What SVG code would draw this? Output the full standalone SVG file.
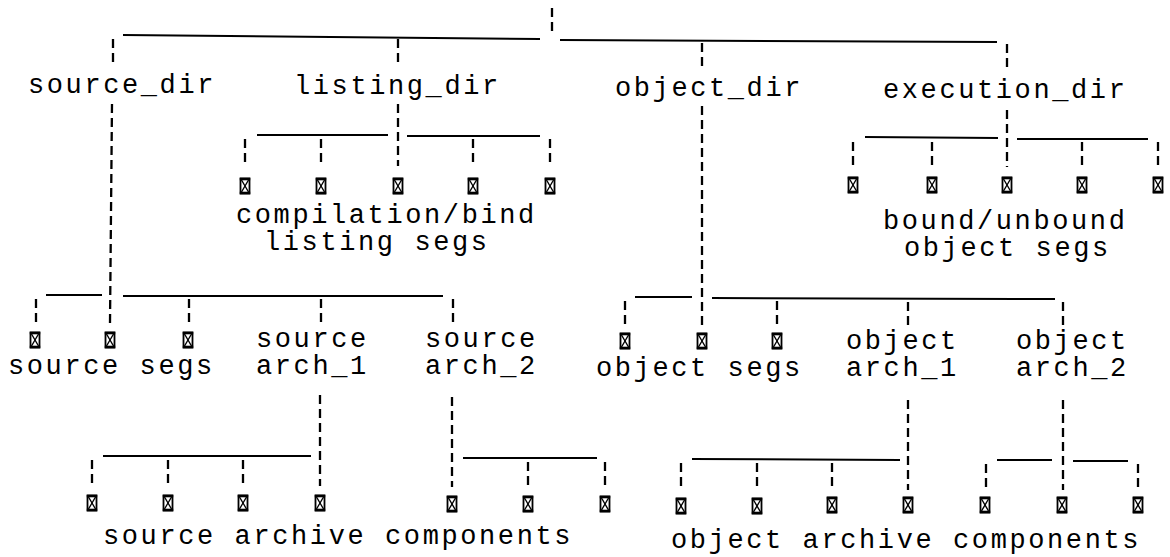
<svg xmlns="http://www.w3.org/2000/svg" width="1170" height="557" viewBox="0 0 1170 557">
<style>
text{font-family:"Liberation Mono","DejaVu Sans Mono",monospace;font-size:27px;letter-spacing:2.6px;fill:#000}
.h{stroke:#000;stroke-width:2;fill:none}
.d{stroke:#000;stroke-width:2.3;stroke-dasharray:9 5;fill:none}
</style>
<defs>
<g id="seg">
<rect x="-4.5" y="-7.5" width="9" height="15" fill="#fff" stroke="#000" stroke-width="1.8"/>
<line x1="-5.2" y1="-7" x2="5.2" y2="-7" stroke="#000" stroke-width="2.6"/>
<line x1="-5.2" y1="7" x2="5.2" y2="7" stroke="#000" stroke-width="2.6"/>
<line x1="-3.5" y1="-6" x2="3.5" y2="6" stroke="#000" stroke-width="1.4"/>
<line x1="3.5" y1="-6" x2="-3.5" y2="6" stroke="#000" stroke-width="1.4"/>
</g>
</defs>
<rect width="1170" height="557" fill="#fff"/>
<g id="connectors">
<line class="d" x1="552" y1="8" x2="552" y2="33"/>
<line class="h" x1="123" y1="35" x2="540" y2="39"/>
<line class="h" x1="560" y1="40" x2="997" y2="42"/>
<line class="d" x1="113" y1="39" x2="113" y2="65"/>
<line class="d" x1="398" y1="39" x2="398" y2="66"/>
<line class="d" x1="702" y1="43" x2="702" y2="68"/>
<line class="d" x1="1007" y1="44" x2="1007" y2="70"/>
<line class="d" x1="112" y1="104" x2="110" y2="323"/>
<line class="d" x1="398" y1="104" x2="398" y2="166"/>
<line class="d" x1="702" y1="106" x2="702" y2="326"/>
<line class="d" x1="1007" y1="110" x2="1007" y2="167"/>
<line class="h" x1="257" y1="135" x2="388" y2="135"/>
<line class="h" x1="407" y1="136" x2="540" y2="136"/>
<line class="d" x1="245" y1="139" x2="245" y2="165"/>
<line class="d" x1="321" y1="139" x2="321" y2="165"/>
<line class="d" x1="473" y1="139" x2="473" y2="165"/>
<line class="d" x1="550" y1="139" x2="550" y2="165"/>
<line class="h" x1="865" y1="137" x2="998" y2="138"/>
<line class="h" x1="1017" y1="139" x2="1148" y2="139"/>
<line class="d" x1="853" y1="142" x2="853" y2="167"/>
<line class="d" x1="932" y1="142" x2="932" y2="167"/>
<line class="d" x1="1082" y1="142" x2="1082" y2="167"/>
<line class="d" x1="1158" y1="142" x2="1158" y2="167"/>
<line class="h" x1="46" y1="295" x2="102" y2="295"/>
<line class="h" x1="123" y1="296" x2="443" y2="296"/>
<line class="d" x1="36" y1="299" x2="36" y2="324"/>
<line class="d" x1="189" y1="299" x2="189" y2="324"/>
<line class="d" x1="321" y1="299" x2="321" y2="324"/>
<line class="d" x1="453" y1="299" x2="453" y2="324"/>
<line class="h" x1="635" y1="297" x2="692" y2="297"/>
<line class="h" x1="712" y1="298" x2="1055" y2="299"/>
<line class="d" x1="625" y1="301" x2="625" y2="326"/>
<line class="d" x1="777" y1="301" x2="777" y2="326"/>
<line class="d" x1="908" y1="302" x2="908" y2="327"/>
<line class="d" x1="1063" y1="302" x2="1063" y2="327"/>
<line class="d" x1="320" y1="395" x2="320" y2="486"/>
<line class="h" x1="103" y1="456" x2="311" y2="456"/>
<line class="d" x1="92" y1="460" x2="92" y2="486"/>
<line class="d" x1="168" y1="460" x2="168" y2="486"/>
<line class="d" x1="243" y1="460" x2="243" y2="486"/>
<line class="d" x1="452" y1="397" x2="452" y2="487"/>
<line class="h" x1="463" y1="458" x2="597" y2="458"/>
<line class="d" x1="528" y1="462" x2="528" y2="487"/>
<line class="d" x1="605" y1="462" x2="605" y2="487"/>
<line class="d" x1="908" y1="400" x2="908" y2="490"/>
<line class="h" x1="692" y1="459" x2="900" y2="460"/>
<line class="d" x1="681" y1="463" x2="681" y2="490"/>
<line class="d" x1="757" y1="463" x2="757" y2="490"/>
<line class="d" x1="832" y1="463" x2="832" y2="490"/>
<line class="d" x1="1063" y1="400" x2="1063" y2="490"/>
<line class="h" x1="997" y1="460" x2="1052" y2="460"/>
<line class="h" x1="1073" y1="461" x2="1128" y2="461"/>
<line class="d" x1="986" y1="464" x2="986" y2="490"/>
<line class="d" x1="1138" y1="464" x2="1138" y2="490"/>
</g>
<g id="source_dir"><text x="28" y="93">source_dir</text></g>
<g id="listing_dir"><text x="294" y="94">listing_dir</text></g>
<g id="object_dir"><text x="615" y="96">object_dir</text></g>
<g id="execution_dir"><text x="883" y="98">execution_dir</text></g>
<g id="listing_segs">
<use href="#seg" x="245" y="186"/><use href="#seg" x="321" y="186"/><use href="#seg" x="398" y="186"/><use href="#seg" x="473" y="186"/><use href="#seg" x="550" y="186"/>
<text x="236" y="223">compilation/bind</text>
<text x="264" y="250">listing segs</text>
</g>
<g id="execution_segs">
<use href="#seg" x="853" y="185"/><use href="#seg" x="932" y="185"/><use href="#seg" x="1007" y="185"/><use href="#seg" x="1082" y="185"/><use href="#seg" x="1158" y="185"/>
<text x="883" y="229">bound/unbound</text>
<text x="904" y="256">object segs</text>
</g>
<g id="source_segs">
<use href="#seg" x="35" y="340"/><use href="#seg" x="110" y="340"/><use href="#seg" x="188" y="340"/>
<text x="8" y="374">source segs</text>
</g>
<g id="source_arch_1"><text x="256" y="347">source</text><text x="256" y="374">arch_1</text></g>
<g id="source_arch_2"><text x="425" y="347">source</text><text x="425" y="374">arch_2</text></g>
<g id="object_segs">
<use href="#seg" x="625" y="341"/><use href="#seg" x="702" y="341"/><use href="#seg" x="777" y="341"/>
<text x="596" y="376">object segs</text>
</g>
<g id="object_arch_1"><text x="846" y="349">object</text><text x="846" y="376">arch_1</text></g>
<g id="object_arch_2"><text x="1016" y="349">object</text><text x="1016" y="376">arch_2</text></g>
<g id="source_archive_components">
<use href="#seg" x="92" y="503"/><use href="#seg" x="168" y="503"/><use href="#seg" x="243" y="503"/><use href="#seg" x="320" y="503"/><use href="#seg" x="452" y="504"/><use href="#seg" x="528" y="504"/><use href="#seg" x="605" y="504"/>
<text x="103" y="544">source archive components</text>
</g>
<g id="object_archive_components">
<use href="#seg" x="681" y="506"/><use href="#seg" x="757" y="506"/><use href="#seg" x="832" y="505"/><use href="#seg" x="908" y="505"/><use href="#seg" x="985" y="505"/><use href="#seg" x="1062" y="505"/><use href="#seg" x="1138" y="505"/>
<text x="671" y="548">object archive components</text>
</g>
</svg>
